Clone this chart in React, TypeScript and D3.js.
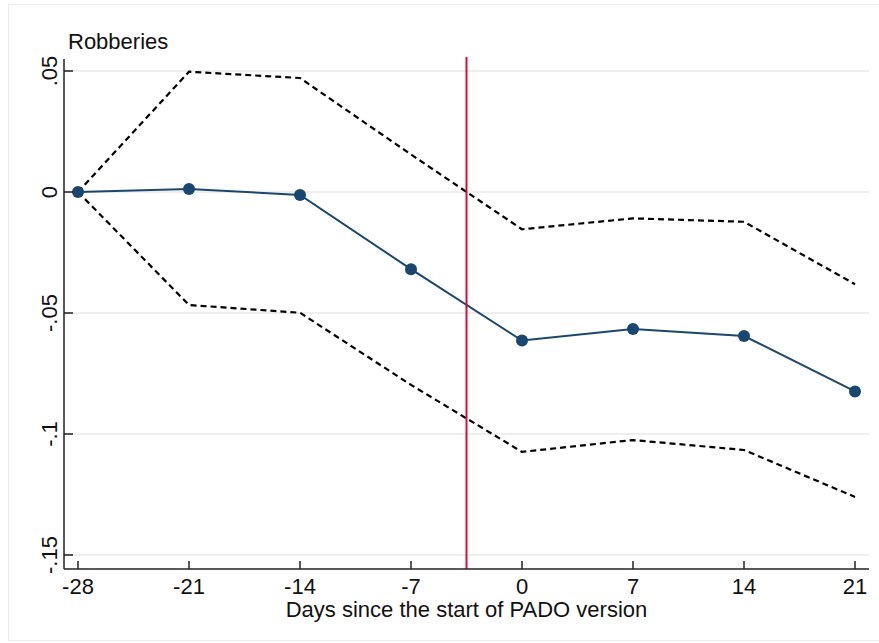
import React from "react";
import * as d3 from "d3";

const days = [-28, -21, -14, -7, 0, 7, 14, 21];
const estimate = [0, 0.0012, -0.0012, -0.0319, -0.0614, -0.0566, -0.0595, -0.0824];
const upperCI = [0, 0.0497, 0.0471, 0.0155, -0.0154, -0.0109, -0.0123, -0.0381];
const lowerCI = [0, -0.0467, -0.0499, -0.0797, -0.1074, -0.1025, -0.1066, -0.126];
const xTicks = [-28, -21, -14, -7, 0, 7, 14, 21];
const yTicks = [0.05, 0, -0.05, -0.1, -0.15];
const yTickLabels = [".05", "0", "-.05", "-.1", "-.15"];
const eventDay = -3.5;
const title = "Robberies";
const xTitle = "Days since the start of PADO version";

export default function App() {
  const W = 879;
  const H = 643;
  const plot = { left: 64, right: 869, top: 57, bottom: 569 };
  const x = d3.scaleLinear().domain([-28, 21]).range([78, 855]);
  const y = d3.scaleLinear().domain([-0.15, 0.05]).range([555, 71]);
  const line = d3
    .line<[number, number]>()
    .x((d) => x(d[0]))
    .y((d) => y(d[1]));
  const est = days.map((d, i) => [d, estimate[i]] as [number, number]);
  const up = days.map((d, i) => [d, upperCI[i]] as [number, number]);
  const lo = days.map((d, i) => [d, lowerCI[i]] as [number, number]);
  const font = "'Liberation Sans', Arial, sans-serif";
  const navy = "#1a476f";

  return (
    <svg
      width={W}
      height={H}
      style={{ position: "absolute", left: 0, top: 0, background: "#fff" }}
      fontFamily={font}
    >
      <rect x={0} y={0} width={W} height={H} fill="#fff" />
      <rect x={8.5} y={4.5} width={W + 10} height={636} fill="#fff" stroke="#ececec" strokeWidth={1} />
      {yTicks.map((t) => (
        <line key={"g" + t} x1={plot.left} x2={plot.right} y1={y(t)} y2={y(t)} stroke="#e8e8e8" strokeWidth={1.5} />
      ))}
      <path d={line(up) || ""} fill="none" stroke="#000" strokeWidth={2.2} strokeDasharray="6,4" />
      <path d={line(lo) || ""} fill="none" stroke="#000" strokeWidth={2.2} strokeDasharray="6,4" />
      <path d={line(est) || ""} fill="none" stroke={navy} strokeWidth={2} />
      {est.map((d, i) => (
        <circle key={"c" + i} cx={x(d[0])} cy={y(d[1])} r={6} fill={navy} />
      ))}
      <line x1={x(eventDay)} x2={x(eventDay)} y1={plot.top} y2={plot.bottom} stroke="#d0103a" strokeWidth={2} />
      <line x1={plot.left} x2={plot.left} y1={plot.top + 2} y2={plot.bottom} stroke="#222" strokeWidth={1.5} />
      <line x1={plot.left} x2={plot.right} y1={plot.bottom} y2={plot.bottom} stroke="#222" strokeWidth={1.5} />
      {yTicks.map((t, i) => (
        <g key={"yt" + t}>
          <line x1={plot.left} x2={plot.left + 9} y1={y(t)} y2={y(t)} stroke="#222" strokeWidth={1.5} />
          <text
            transform={`translate(57,${y(t)}) rotate(-90)`}
            textAnchor="middle"
            fontSize={22}
            fill="#111"
          >
            {yTickLabels[i]}
          </text>
        </g>
      ))}
      {xTicks.map((t) => (
        <g key={"xt" + t}>
          <line x1={x(t)} x2={x(t)} y1={plot.bottom - 8} y2={plot.bottom} stroke="#222" strokeWidth={1.5} />
          <text x={x(t)} y={594} textAnchor="middle" fontSize={22} fill="#111">
            {String(t)}
          </text>
        </g>
      ))}
      <text x={(plot.left + plot.right) / 2} y={617} textAnchor="middle" fontSize={22} fill="#111">
        {xTitle}
      </text>
      <text x={68} y={49} fontSize={22} fill="#111">
        {title}
      </text>
    </svg>
  );
}
